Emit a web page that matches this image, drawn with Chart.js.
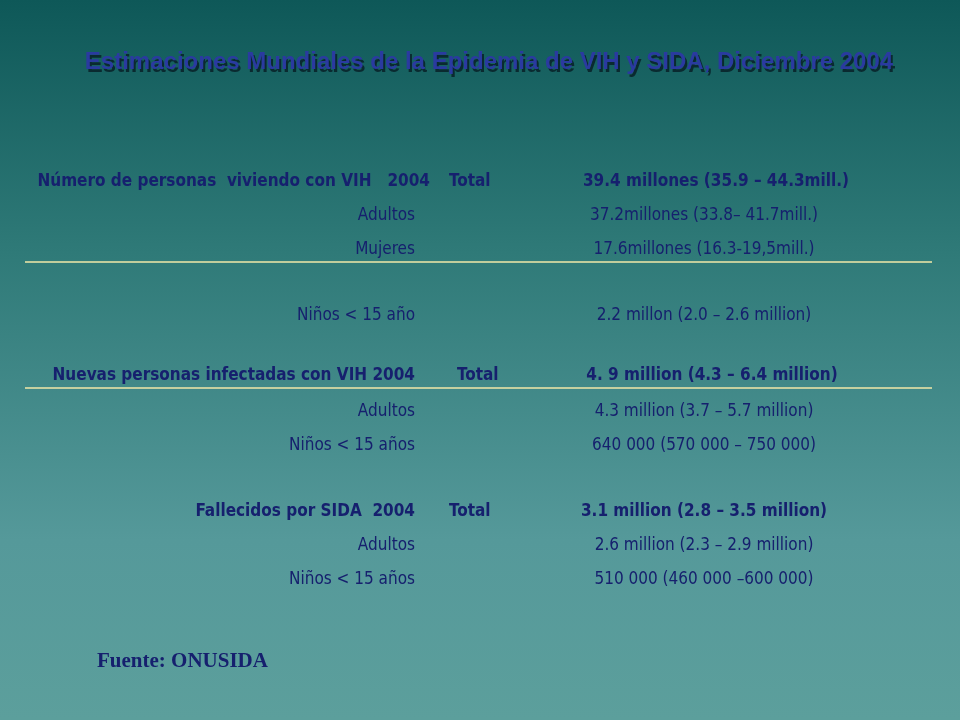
<!DOCTYPE html>
<html>
<head>
<meta charset="utf-8">
<script src="https://cdn.jsdelivr.net/npm/chart.js@4.4.0/dist/chart.umd.min.js"></script>
<style>
  html, body { margin: 0; padding: 0; }
  body { width: 960px; height: 720px; background: linear-gradient(#0e5858 0%, #2f7a78 35%, #55999a 75%, #5c9f9c 100%); }
  #wrap { position: relative; width: 960px; height: 720px; }
</style>
</head>
<body>
<div id="wrap"><canvas id="slide" width="960" height="720"></canvas></div>
<script>
// Slide content
const title = 'Estimaciones Mundiales de la Epidemia de VIH y SIDA, Diciembre 2004';
const labels = [
  'Número de personas  viviendo con VIH   2004', 'Adultos', 'Mujeres', 'Niños < 15 año',
  'Nuevas personas infectadas con VIH 2004', 'Adultos', 'Niños < 15 años',
  'Fallecidos por SIDA  2004', 'Adultos', 'Niños < 15 años'
];
const totals = ['Total', '', '', '', 'Total', '', '', 'Total', '', ''];
const values = [
  '39.4 millones (35.9 – 44.3mill.)', '37.2millones (33.8– 41.7mill.)', '17.6millones (16.3-19,5mill.)',
  '2.2 millon (2.0 – 2.6 million)', '4. 9 million (4.3 – 6.4 million)', '4.3 million (3.7 – 5.7 million)',
  '640 000 (570 000 – 750 000)', '3.1 million (2.8 – 3.5 million)', '2.6 million (2.3 – 2.9 million)',
  '510 000 (460 000 –600 000)'
];
const bold = [true, false, false, false, true, false, false, true, false, false];
const source = 'Fuente: ONUSIDA';

// layout (pixel rows on the slide)
const rowY = [182, 216, 250, 316, 376, 412, 446, 512, 546, 580];
const ruleY = [262, 388];

const navy = '#16206e';
const narrow = '"Liberation Sans Narrow", "Arial Narrow", "DejaVu Sans Condensed", sans-serif';

const textPlugin = {
  id: 'slideText',
  afterDraw(chart) {
    const ctx = chart.ctx;
    const y = chart.scales.y;
    ctx.save();
    // title with shadow
    ctx.font = 'bold 24px "Liberation Sans", Arial, sans-serif';
    ctx.textAlign = 'center';
    ctx.textBaseline = 'middle';
    ctx.fillStyle = '#0a2a30';
    ctx.fillText(title, 491, y.getPixelForValue(65));
    ctx.fillStyle = '#2a3aa0';
    ctx.fillText(title, 489, y.getPixelForValue(62));

    // rules
    ctx.strokeStyle = '#f2e8a8';
    ctx.lineWidth = 1.5;
    ruleY.forEach(r => {
      ctx.beginPath();
      ctx.moveTo(25, y.getPixelForValue(r));
      ctx.lineTo(932, y.getPixelForValue(r));
      ctx.stroke();
    });

    // rows
    ctx.fillStyle = navy;
    labels.forEach((lab, i) => {
      const py = y.getPixelForValue(rowY[i]);
      ctx.font = (bold[i] ? 'bold ' : '') + '17px ' + narrow;
      ctx.textAlign = 'right';
      ctx.fillText(lab, i === 0 ? 430 : 415, py);
      if (totals[i]) {
        ctx.textAlign = 'left';
        ctx.fillText(totals[i], i === 4 ? 457 : 449, py);
      }
      ctx.textAlign = 'center';
      ctx.fillText(values[i], i === 0 ? 716 : (i === 4 ? 712 : 704), py);
    });

    ctx.font = 'bold 21px "Liberation Serif", "DejaVu Serif", serif';
    ctx.textAlign = 'left';
    ctx.fillText(source, 97, y.getPixelForValue(662));
    ctx.restore();
  }
};

new Chart(document.getElementById('slide').getContext('2d'), {
  type: 'scatter',
  data: { datasets: [{ data: [] }] },
  options: {
    responsive: false,
    animation: false,
    layout: { padding: 0 },
    plugins: { legend: { display: false }, tooltip: { enabled: false } },
    scales: {
      x: { display: false, min: 0, max: 960 },
      y: { display: false, min: 0, max: 720, reverse: true }
    }
  },
  plugins: [textPlugin]
});
</script>
</body>
</html>
